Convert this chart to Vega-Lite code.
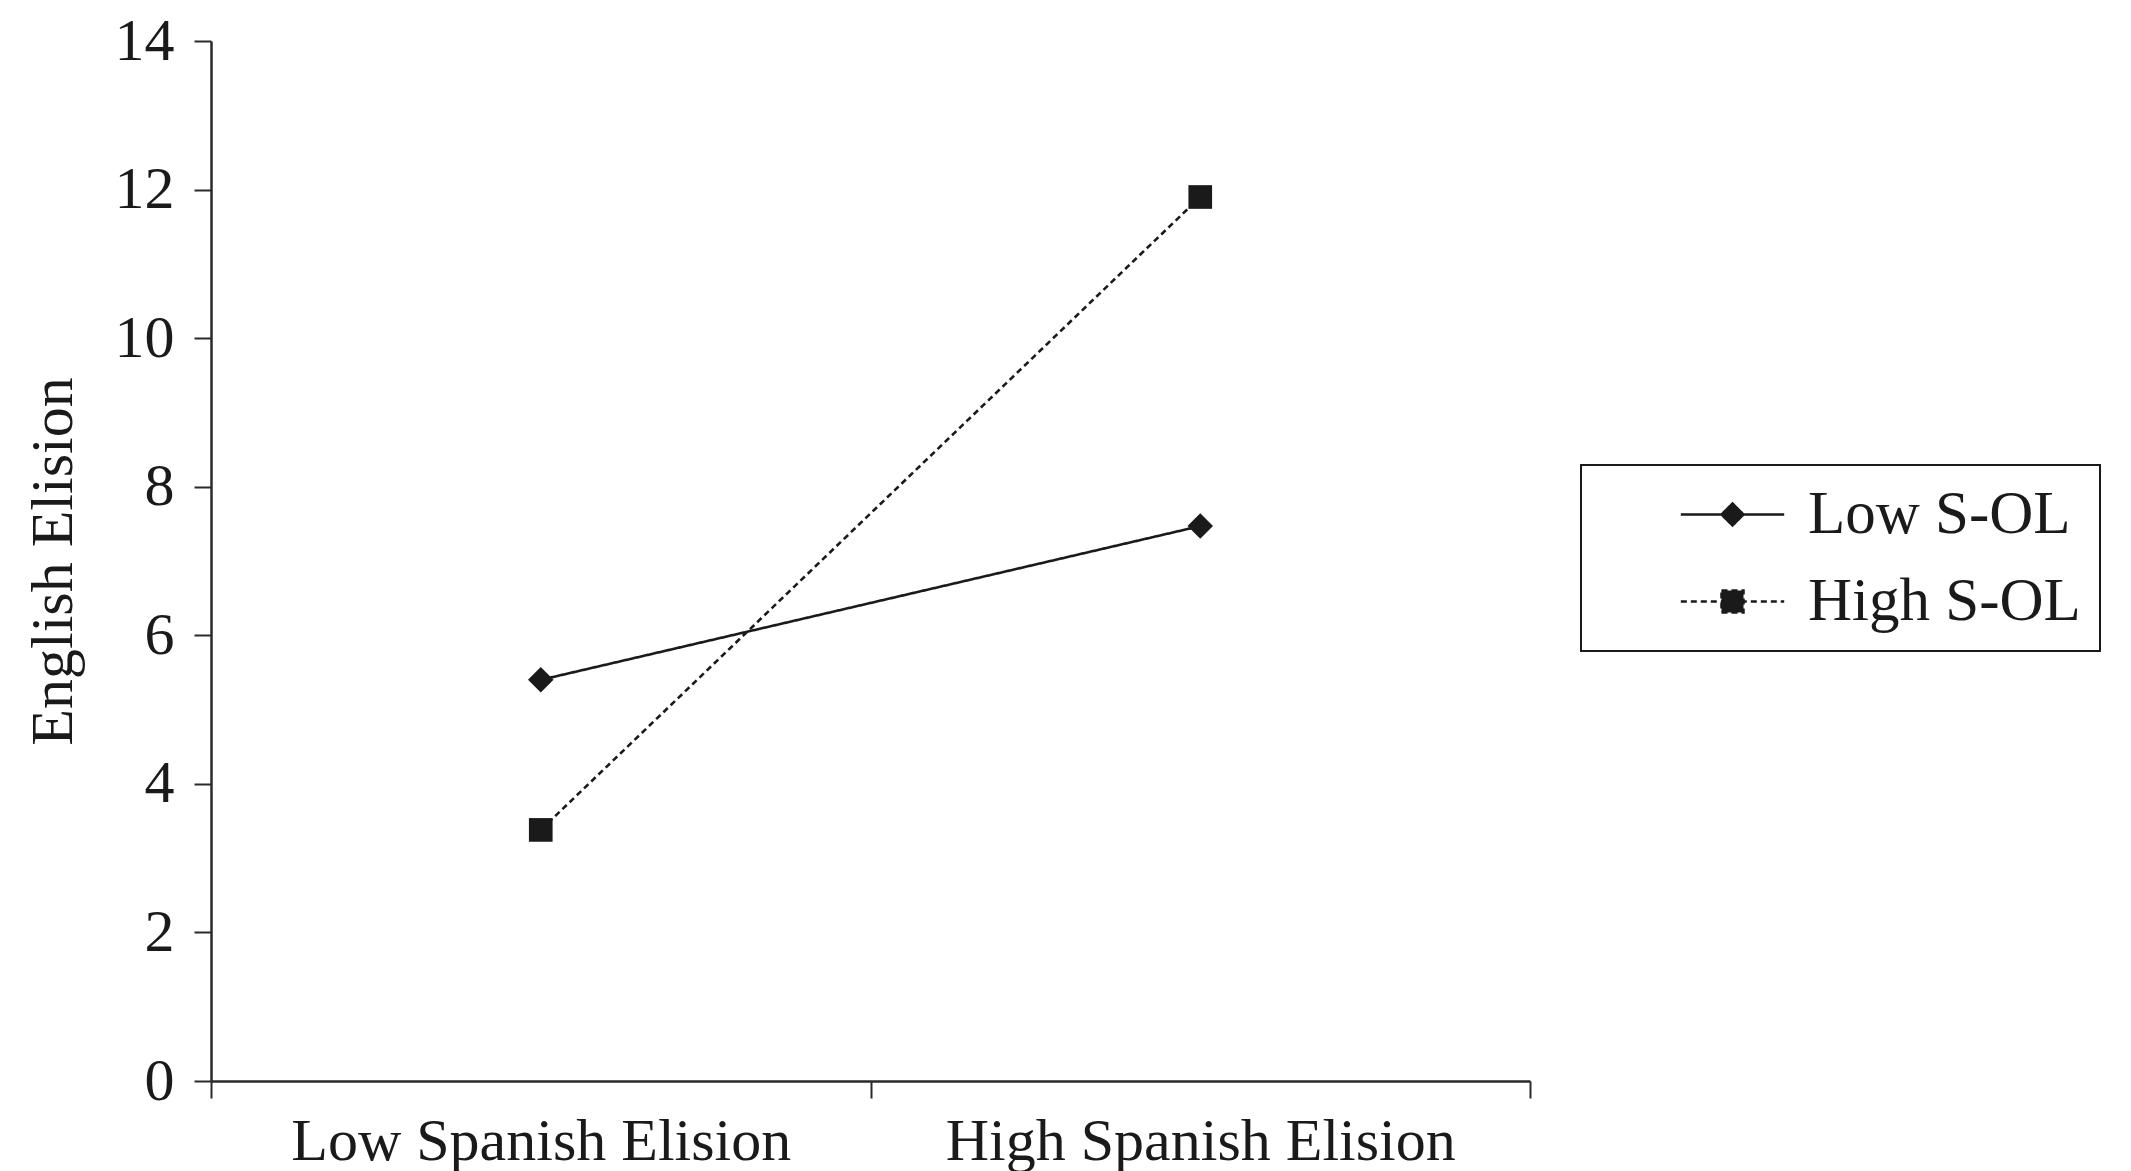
{
  "$schema": "https://vega.github.io/schema/vega-lite/v6.json",
  "width": 1319,
  "height": 1040,
  "autosize": "none",
  "padding": {"left": 211, "top": 41, "right": 601, "bottom": 90},
  "background": "white",
  "config": {
    "font": "Liberation Serif",
    "view": {"stroke": null},
    "axis": {"grid": false}
  },
  "data": {
    "values": [
      {"spanish": "Low Spanish Elision", "group": "Low S-OL", "elision": 5.4},
      {"spanish": "High Spanish Elision", "group": "Low S-OL", "elision": 7.47},
      {"spanish": "Low Spanish Elision", "group": "High S-OL", "elision": 3.38},
      {"spanish": "High Spanish Elision", "group": "High S-OL", "elision": 11.9}
    ]
  },
  "encoding": {
    "x": {
      "field": "spanish",
      "type": "nominal",
      "sort": ["Low Spanish Elision", "High Spanish Elision"],
      "scale": {"type": "band", "paddingInner": 0, "paddingOuter": 0},
      "axis": {
        "title": null,
        "labelAngle": 0,
        "labelLimit": 0,
        "tickBand": "extent",
        "labelFont": "Liberation Serif",
        "labelFontSize": 60,
        "labelColor": "#1a1a1a",
        "domainColor": "#2a2a2a",
        "domainWidth": 2.5,
        "tickColor": "#2a2a2a",
        "tickWidth": 2,
        "tickSize": 17,
        "labelPadding": 14
      }
    },
    "y": {
      "field": "elision",
      "type": "quantitative",
      "scale": {"domain": [0, 14], "nice": false},
      "axis": {
        "title": "English Elision",
        "values": [0, 2, 4, 6, 8, 10, 12, 14],
        "labelFont": "Liberation Serif",
        "labelFontSize": 60,
        "labelColor": "#1a1a1a",
        "domainColor": "#2a2a2a",
        "domainWidth": 2.5,
        "tickColor": "#2a2a2a",
        "tickWidth": 2,
        "tickSize": 17,
        "labelPadding": 20,
        "titleFont": "Liberation Serif",
        "titleFontSize": 60,
        "titleFontWeight": "normal",
        "titleColor": "#1a1a1a",
        "titlePadding": 30
      }
    }
  },
  "layer": [
    {
      "mark": {"type": "line", "color": "#1a1a1a", "strokeWidth": 2.6},
      "encoding": {
        "strokeDash": {
          "field": "group",
          "type": "nominal",
          "scale": {"domain": ["Low S-OL", "High S-OL"], "range": [[1, 0], [6, 4]]},
          "legend": {
            "title": null,
            "orient": "none",
            "legendX": 1370,
            "legendY": 424,
            "strokeColor": "#1a1a1a",
            "fillColor": "white",
            "padding": 19,
            "labelFont": "Liberation Serif",
            "labelFontSize": 61,
            "labelColor": "#1a1a1a",
            "labelLimit": 0,
            "symbolSize": 484,
            "symbolOffset": 102,
            "labelOffset": 45,
            "rowPadding": 25,
            "symbolStrokeWidth": 2.5,
            "symbolStrokeColor": "#1a1a1a",
            "symbolFillColor": "#1a1a1a",
            "encode": {
              "legend": {"update": {"strokeWidth": {"value": 2}, "width": {"value": 600}}},
              "symbols": {
                "update": {
                  "shape": {"signal": "datum.value === 'Low S-OL' ? 'M-4.7,0L4.7,0M0,-1L1,0L0,1L-1,0Z' : 'M-4.7,0L4.7,0M-1,-1L1,-1L1,1L-1,1Z'"},
                  "fill": {"value": "#1a1a1a"},
                  "stroke": {"value": "#1a1a1a"}
                }
              }
            }
          }
        }
      }
    },
    {
      "transform": [{"filter": "datum.group === 'Low S-OL'"}],
      "mark": {"type": "point", "shape": "diamond", "filled": true, "color": "#1a1a1a", "opacity": 1, "size": 650}
    },
    {
      "transform": [{"filter": "datum.group === 'High S-OL'"}],
      "mark": {"type": "point", "shape": "square", "filled": true, "color": "#1a1a1a", "opacity": 1, "size": 560}
    }
  ]
}
